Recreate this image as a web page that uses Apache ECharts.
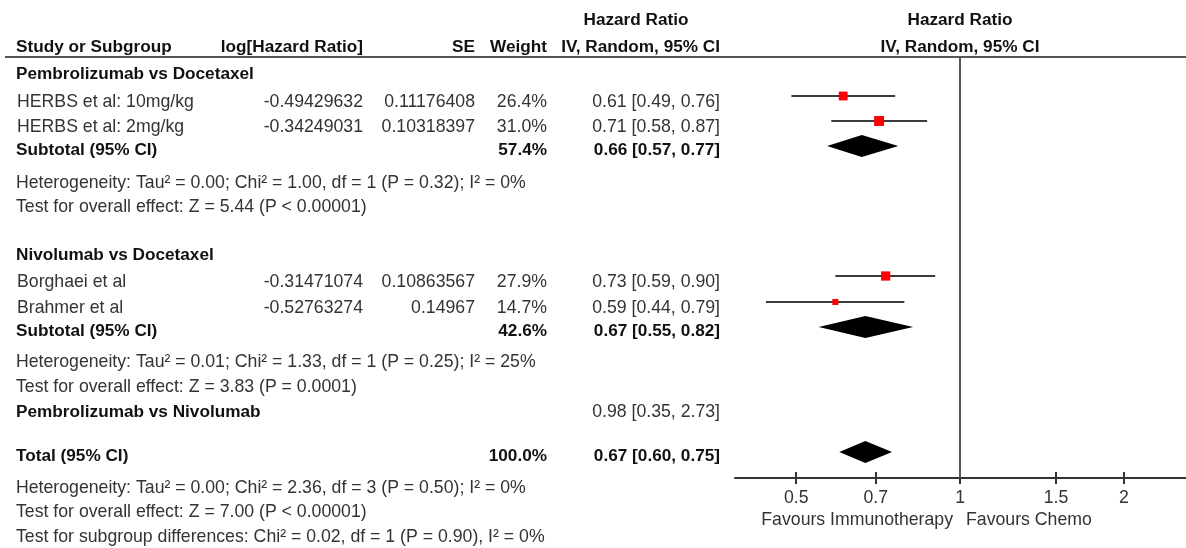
<!DOCTYPE html>
<html><head><meta charset="utf-8">
<script src="https://cdn.jsdelivr.net/npm/echarts@6/dist/echarts.min.js"></script>
<style>html,body{margin:0;padding:0;background:#fff}#c{width:1186px;height:548px}</style>
</head><body><div id="c"></div>
<script>
// ---------------- data ----------------
const subgroupNames = ['Pembrolizumab vs Docetaxel', 'Nivolumab vs Docetaxel', 'Pembrolizumab vs Nivolumab'];
const studyNames = ['HERBS et al: 10mg/kg', 'HERBS et al: 2mg/kg', 'Borghaei et al', 'Brahmer et al'];
const studyLogHR = ['-0.49429632', '-0.34249031', '-0.31471074', '-0.52763274'];
const studySE = ['0.11176408', '0.10318397', '0.10863567', '0.14967'];
const studyWeight = [26.4, 31.0, 27.9, 14.7];
const studyHR = [0.61, 0.71, 0.73, 0.59];
const studyLow = [0.49, 0.58, 0.59, 0.44];
const studyHigh = [0.76, 0.87, 0.90, 0.79];
const subtotalWeight = [57.4, 42.6];
const subtotalHR = [0.66, 0.67];
const subtotalLow = [0.57, 0.55];
const subtotalHigh = [0.77, 0.82];
const indirectHR = [0.98, 0.35, 2.73];      // Pembrolizumab vs Nivolumab: HR, low, high (not plotted)
const totalWeight = 100.0;
const totalHR = [0.67, 0.60, 0.75];           // HR, low, high
const heterogeneityText = [
  'Heterogeneity: Tau\u00b2 = 0.00; Chi\u00b2 = 1.00, df = 1 (P = 0.32); I\u00b2 = 0%',
  'Heterogeneity: Tau\u00b2 = 0.01; Chi\u00b2 = 1.33, df = 1 (P = 0.25); I\u00b2 = 25%',
  'Heterogeneity: Tau\u00b2 = 0.00; Chi\u00b2 = 2.36, df = 3 (P = 0.50); I\u00b2 = 0%'
];
const overallEffectText = [
  'Test for overall effect: Z = 5.44 (P < 0.00001)',
  'Test for overall effect: Z = 3.83 (P = 0.0001)',
  'Test for overall effect: Z = 7.00 (P < 0.00001)'
];
const subgroupDiffText = 'Test for subgroup differences: Chi\u00b2 = 0.02, df = 1 (P = 0.90), I\u00b2 = 0%';
const tickValues = [0.5, 0.7, 1, 1.5, 2];
const axisRange = [0.386, 2.6];
const favoursLabels = ['Favours Immunotherapy', 'Favours Chemo'];

// ---------------- layout ----------------
const FAM = '"Liberation Sans", Arial, Helvetica, sans-serif';
const FS = 17.7, FSB = 17.2;
const X = { name: 16, logHR: 363, se: 475, weight: 547, ci: 720, ciHead: 636, plotHead: 960 };
const Y = {
  title: 20, head: 47, line: 57, axis: 478,
  grp1: 74, s1: 102, s2: 127, sub1: 150, het1: 183, test1: 207,
  grp2: 255, s3: 282, s4: 308, sub2: 331, het2: 362, test2: 387,
  grp3: 412, total: 456, het3: 488, test3: 512, diff: 537, favours: 520
};
const studyRows = [Y.s1, Y.s2, Y.s3, Y.s4];
const subtotalRows = [Y.sub1, Y.sub2];
const SQ_OFF = -6, DIA_OFF = -4;

const fmt2 = v => v.toFixed(2);
const ciText = (h, l, u) => `${fmt2(h)} [${fmt2(l)}, ${fmt2(u)}]`;

function txt(text, x, y, align, bold) {
  return {
    type: 'text', silent: true, x: x, y: y,
    style: {
      text: text, x: 0, y: 0,
      font: (bold ? 'bold ' + FSB : FS) + 'px ' + FAM,
      fill: bold ? '#111' : '#333',
      align: align || 'left', verticalAlign: 'middle',
      textAlign: align || 'left', textVerticalAlign: 'middle'
    }
  };
}

const g = [];
// headers
g.push(txt('Hazard Ratio', X.ciHead, Y.title, 'center', true));
g.push(txt('Hazard Ratio', X.plotHead, Y.title, 'center', true));
g.push(txt('Study or Subgroup', X.name, Y.head, 'left', true));
g.push(txt('log[Hazard Ratio]', X.logHR, Y.head, 'right', true));
g.push(txt('SE', X.se, Y.head, 'right', true));
g.push(txt('Weight', X.weight, Y.head, 'right', true));
g.push(txt('IV, Random, 95% CI', X.ci, Y.head, 'right', true));
g.push(txt('IV, Random, 95% CI', X.plotHead, Y.head, 'center', true));
g.push({ type: 'line', silent: true, shape: { x1: 5, y1: Y.line, x2: 1186, y2: Y.line }, style: { stroke: '#555', lineWidth: 2 } });

// subgroup titles
g.push(txt(subgroupNames[0], X.name, Y.grp1, 'left', true));
g.push(txt(subgroupNames[1], X.name, Y.grp2, 'left', true));
g.push(txt(subgroupNames[2], X.name, Y.grp3, 'left', true));
g.push(txt(ciText(indirectHR[0], indirectHR[1], indirectHR[2]), X.ci, Y.grp3, 'right', false));

// studies
studyNames.forEach((n, i) => {
  const y = studyRows[i];
  g.push(txt(n, X.name + 1, y, 'left', false));
  g.push(txt(studyLogHR[i], X.logHR, y, 'right', false));
  g.push(txt(studySE[i], X.se, y, 'right', false));
  g.push(txt(studyWeight[i].toFixed(1) + '%', X.weight, y, 'right', false));
  g.push(txt(ciText(studyHR[i], studyLow[i], studyHigh[i]), X.ci, y, 'right', false));
});
// subtotals
subtotalRows.forEach((y, i) => {
  g.push(txt('Subtotal (95% CI)', X.name, y, 'left', true));
  g.push(txt(subtotalWeight[i].toFixed(1) + '%', X.weight, y, 'right', true));
  g.push(txt(ciText(subtotalHR[i], subtotalLow[i], subtotalHigh[i]), X.ci, y, 'right', true));
});
g.push(txt(heterogeneityText[0], X.name, Y.het1, 'left', false));
g.push(txt(overallEffectText[0], X.name, Y.test1, 'left', false));
g.push(txt(heterogeneityText[1], X.name, Y.het2, 'left', false));
g.push(txt(overallEffectText[1], X.name, Y.test2, 'left', false));
// total
g.push(txt('Total (95% CI)', X.name, Y.total, 'left', true));
g.push(txt(totalWeight.toFixed(1) + '%', X.weight, Y.total, 'right', true));
g.push(txt(ciText(totalHR[0], totalHR[1], totalHR[2]), X.ci, Y.total, 'right', true));
g.push(txt(heterogeneityText[2], X.name, Y.het3, 'left', false));
g.push(txt(overallEffectText[2], X.name, Y.test3, 'left', false));
g.push(txt(subgroupDiffText, X.name, Y.diff, 'left', false));
// favours
g.push(txt(favoursLabels[0], 953, Y.favours, 'right', false));
g.push(txt(favoursLabels[1], 966, Y.favours, 'left', false));

// ---------------- series data (ln scale) ----------------
const ln = Math.log;
const studyData = studyNames.map((n, i) => [ln(studyHR[i]), ln(studyLow[i]), ln(studyHigh[i]), studyRows[i] + SQ_OFF, studyWeight[i]]);
const diamondData = subtotalRows.map((y, i) => [ln(subtotalHR[i]), ln(subtotalLow[i]), ln(subtotalHigh[i]), y + DIA_OFF])
  .concat([[ln(totalHR[0]), ln(totalHR[1]), ln(totalHR[2]), Y.total + DIA_OFF]]);
const tickLn = tickValues.map(v => ln(v));
const tickFmt = v => String(+Math.exp(v).toFixed(2));

const axisBase = {
  type: 'value', gridIndex: 0, position: 'bottom',
  min: ln(axisRange[0]), max: ln(axisRange[1]),
  splitLine: { show: false }
};

const chart = echarts.init(document.getElementById('c'), null, { renderer: 'canvas' });
chart.setOption({
  animation: false,
  backgroundColor: '#fff',
  grid: { left: 735, right: 0, top: Y.line, bottom: 548 - Y.axis, containLabel: false, outerBoundsMode: 'none' },
  xAxis: [
    Object.assign({}, axisBase, {
      axisLine: { show: true, onZero: false, lineStyle: { color: '#333', width: 2 } },
      axisTick: { show: true, inside: false, length: 6, customValues: tickLn, lineStyle: { color: '#333', width: 2 } },
      axisLabel: { show: true, customValues: tickLn, formatter: tickFmt, margin: 11, fontSize: FS, fontFamily: FAM, color: '#333' }
    }),
    Object.assign({}, axisBase, {
      axisLine: { show: false, onZero: false },
      axisTick: { show: true, inside: true, length: 6, customValues: tickLn, lineStyle: { color: '#333', width: 2 } },
      axisLabel: { show: false }
    })
  ],
  yAxis: { type: 'value', min: Y.line, max: Y.axis, inverse: true, show: false },
  graphic: { elements: g },
  series: [
    {
      type: 'custom', name: 'studies', xAxisIndex: 0, yAxisIndex: 0, silent: true, clip: false,
      data: studyData,
      renderItem: function (params, api) {
        const yv = api.value(3);
        const p = api.coord([api.value(0), yv]);
        const lo = api.coord([api.value(1), yv]);
        const hi = api.coord([api.value(2), yv]);
        const s = 2.5 + 0.24 * api.value(4);
        return {
          type: 'group', children: [
            { type: 'line', shape: { x1: lo[0], y1: p[1], x2: hi[0], y2: p[1] }, style: { stroke: '#3c3c3c', lineWidth: 2 } },
            { type: 'rect', shape: { x: p[0] - s / 2, y: p[1] - s / 2, width: s, height: s }, style: { fill: '#ff0000' } }
          ]
        };
      },
      markLine: {
        silent: true, symbol: 'none', label: { show: false },
        lineStyle: { color: '#555', width: 2, type: 'solid' },
        data: [{ xAxis: 0 }]
      }
    },
    {
      type: 'custom', name: 'pooled', xAxisIndex: 0, yAxisIndex: 0, silent: true, clip: false,
      data: diamondData,
      renderItem: function (params, api) {
        const yv = api.value(3);
        const p = api.coord([api.value(0), yv]);
        const lo = api.coord([api.value(1), yv]);
        const hi = api.coord([api.value(2), yv]);
        const h = 11;
        return {
          type: 'polygon',
          shape: { points: [[lo[0], p[1]], [p[0], p[1] - h], [hi[0], p[1]], [p[0], p[1] + h]] },
          style: { fill: '#000' }
        };
      }
    }
  ]
});
</script>
</body></html>
